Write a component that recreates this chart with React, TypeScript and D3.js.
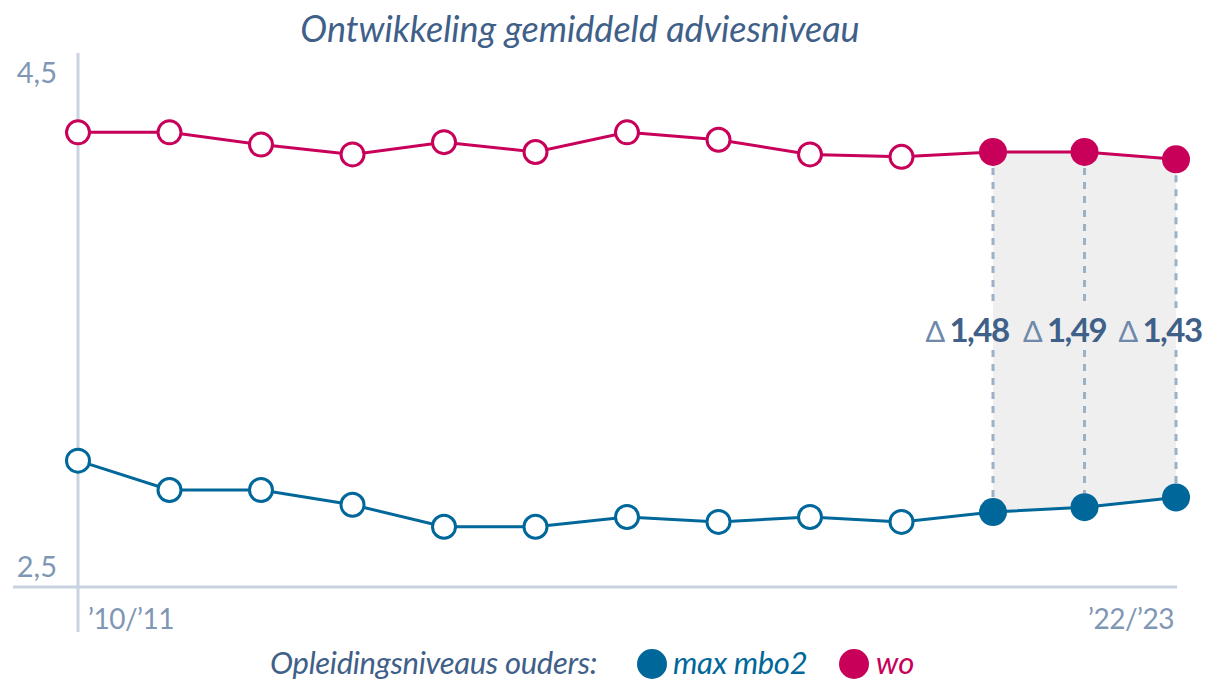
import React from "react";
import * as d3 from "d3";

const years = ["’10/’11","’11/’12","’12/’13","’13/’14","’14/’15","’15/’16","’16/’17","’17/’18","’18/’19","’19/’20","’20/’21","’21/’22","’22/’23"];
const woValues = [4.27, 4.27, 4.22, 4.18, 4.23, 4.19, 4.27, 4.24, 4.18, 4.17, 4.19, 4.19, 4.16];
const mboValues = [2.93, 2.81, 2.81, 2.75, 2.66, 2.66, 2.70, 2.68, 2.70, 2.68, 2.72, 2.74, 2.78];
const highlightIdx = [10, 11, 12];
const deltaLabels = ["1,48", "1,49", "1,43"];
const yTicks = [4.5, 2.5];
const yTickLabels = ["4,5", "2,5"];
const title = "Ontwikkeling gemiddeld adviesniveau";
const legendTitle = "Opleidingsniveaus ouders:";
const seriesNames = ["max mbo2", "wo"];

const W = 1207, H = 681;
const BLUE = "#00679a";
const MAGENTA = "#c8005a";
const TEXT = "#3f6088";
const AXIS_TEXT = "#7f97b5";
const AXIS_LINE = "#c9d3e0";
const SHADE = "#efefef";
const DASH = "#9cb0c6";
const FONT = "Lato, 'Open Sans', sans-serif";

export default function App() {
  const x = d3.scalePoint<string>().domain(years).range([78, 1176]);
  const y = d3.scaleLinear().domain([2.5, 4.5]).range([566, 76]);

  const line = d3.line<number>().x((_, i) => x(years[i])!).y((d) => y(d));
  const hi = highlightIdx;
  const area = d3
    .area<number>()
    .x((i) => x(years[i])!)
    .y0((i) => y(mboValues[i]))
    .y1((i) => y(woValues[i]));

  const labelTop = 308;
  const labelBottom = 350;
  const labelShift = [-26, -20, -16];

  return (
    <svg width={W} height={H} style={{ position: "absolute", left: 0, top: 0, background: "#fff" }} fontFamily={FONT}>
      {/* title */}
      <text x={580} y={42} textAnchor="middle" fontStyle="italic" fontSize={36} fill={TEXT}>{title}</text>

      {/* shaded area */}
      <path d={area(hi) || ""} fill={SHADE} />

      {/* dashed connectors */}
      {hi.map((i) => {
        const cx = x(years[i])!;
        return (
          <g key={"d" + i} stroke={DASH} strokeWidth={3} strokeDasharray="7 7">
            <line x1={cx} x2={cx} y1={y(woValues[i]) + 16} y2={labelTop} />
            <line x1={cx} x2={cx} y1={labelBottom} y2={y(mboValues[i]) - 14} />
          </g>
        );
      })}

      {/* axes */}
      <line x1={78} x2={78} y1={53} y2={632} stroke={AXIS_LINE} strokeWidth={3} />
      <line x1={13} x2={1177} y1={587} y2={587} stroke={AXIS_LINE} strokeWidth={3} />
      {yTicks.map((t, i) => (
        <text key={t} x={57} y={y(t) + (i === 0 ? 7 : 11)} textAnchor="end" fontSize={29} fill={AXIS_TEXT}>{yTickLabels[i]}</text>
      ))}
      <text x={88} y={629} fontSize={28} fill={AXIS_TEXT} letterSpacing={-0.5}>{years[0]}</text>
      <text x={1174} y={629} textAnchor="end" fontSize={28} fill={AXIS_TEXT} letterSpacing={-0.5}>{years[years.length - 1]}</text>

      {/* lines */}
      <path d={line(woValues) || ""} fill="none" stroke={MAGENTA} strokeWidth={3} />
      <path d={line(mboValues) || ""} fill="none" stroke={BLUE} strokeWidth={3} />

      {/* points */}
      {[{ v: woValues, c: MAGENTA }, { v: mboValues, c: BLUE }].map((s, si) =>
        s.v.map((d, i) => {
          const filled = hi.includes(i);
          return (
            <circle
              key={si + "-" + i}
              cx={x(years[i])!}
              cy={y(d)}
              r={filled ? 14 : 11.5}
              fill={filled ? s.c : "#fff"}
              stroke={filled ? "none" : s.c}
              strokeWidth={3}
            />
          );
        })
      )}

      {/* delta labels */}
      {hi.map((i, k) => (
        <text key={"l" + i} x={x(years[i])! + labelShift[k]} y={342} textAnchor="middle" fontSize={33} letterSpacing={-1.5}>
          <tspan fill="#6f89aa" fontWeight={400} fontSize={29}>Δ </tspan>
          <tspan fill={TEXT} fontWeight={700}>{deltaLabels[k]}</tspan>
        </text>
      ))}

      {/* legend */}
      <text x={270} y={674} fontStyle="italic" fontSize={31} fill={TEXT} letterSpacing={-0.3}>{legendTitle}</text>
      <circle cx={652} cy={664} r={15} fill={BLUE} />
      <text x={673} y={674} fontStyle="italic" fontSize={31} fill={BLUE} letterSpacing={-0.3}>{seriesNames[0]}</text>
      <circle cx={854} cy={664} r={15} fill={MAGENTA} />
      <text x={876} y={674} fontStyle="italic" fontSize={31} fill={MAGENTA}>{seriesNames[1]}</text>
    </svg>
  );
}
